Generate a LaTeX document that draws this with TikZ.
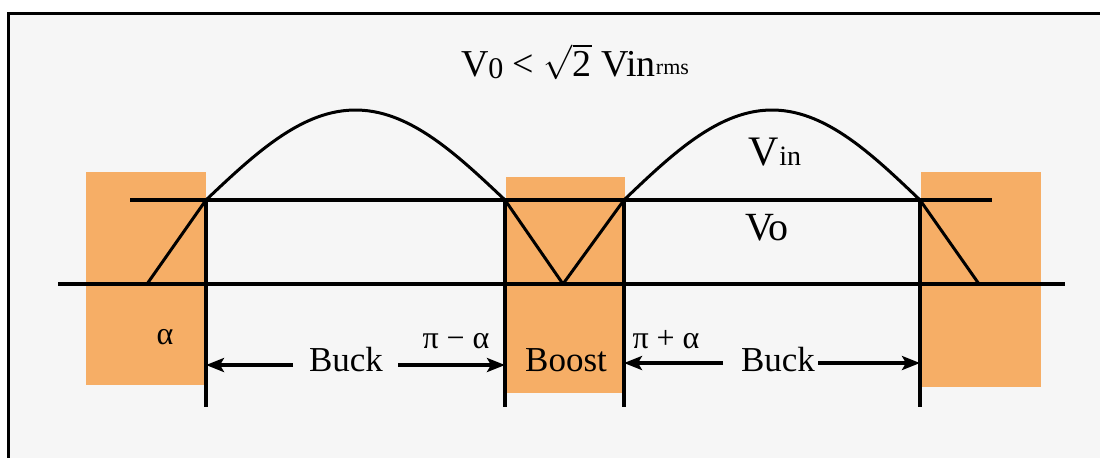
\documentclass[tikz,border=0pt]{standalone}
\usepackage{fontspec}
\setmainfont{Liberation Serif}
\usetikzlibrary{arrows.meta}
\definecolor{boxorange}{HTML}{F6AE66}
\definecolor{panelgrey}{HTML}{F6F6F6}

\begin{document}
\begin{tikzpicture}[x=0.5pt,y=-0.5pt,
    region/.style={fill=boxorange, draw=none},
    level/.style={line width=2pt},
    marker/.style={line width=2pt},
    wave/.style={line width=1.5pt, line join=round},
    span/.style={line width=2pt, -{Stealth[length=9pt,width=7pt,inset=2pt]}},
    lbl/.style={inner sep=0pt, font=\fontsize{17.5}{20}\selectfont},
    angle/.style={inner sep=0pt, font=\fontsize{16}{19}\selectfont}]
    \useasboundingbox (0,0) rectangle (1100,457);
    \clip (0,0) rectangle (1100,457);
    \fill[white] (0,0) rectangle (1100,457);
    \draw[line width=1.5pt, fill=panelgrey] (8,13) rectangle (1110,470);

    % Regions
    \fill[region] (86,172) rectangle (206,385);
    \fill[region] (506,177) rectangle (625,393);
    \fill[region] (921,172) rectangle (1041,387);

    % Points
    \coordinate (vs) at (130,200);
    \coordinate (ve) at (992,200);
    \coordinate (gs) at (58,284);
    \coordinate (ge) at (1065,284);
    \coordinate (z1) at (147,284);
    \coordinate (c1) at (206,200);
    \coordinate (c2) at (505,200);
    \coordinate (z2) at (563,284);
    \coordinate (c3) at (624,200);
    \coordinate (c4) at (920,200);
    \coordinate (z3) at (979,284);
    \coordinate (m1) at (206,407);
    \coordinate (m2) at (505,407);
    \coordinate (m3) at (624,407);
    \coordinate (m4) at (920,407);
    \coordinate (a1) at (206,365);
    \coordinate (a2) at (505,365);
    \coordinate (a3) at (624,363);
    \coordinate (a4) at (920,363);
    \coordinate (t1) at (293,365);
    \coordinate (t2) at (398,365);
    \coordinate (t3) at (723,363);
    \coordinate (t4) at (818,363);

    % Nodes
    \node[inner sep=0pt, font=\fontsize{19}{22}\selectfont] (title) at (575,62)
        {V\raisebox{-1pt}{\fontsize{15}{15}\selectfont 0} < $\sqrt{\mbox{2}}$ Vin\raisebox{1pt}{\fontsize{11}{11}\selectfont rms}};
    \node[inner sep=0pt, font=\fontsize{21}{24}\selectfont] (vin) at (775,152)
        {V{\fontsize{14}{14}\selectfont in}};
    \node[inner sep=0pt, font=\fontsize{20}{24}\selectfont] (vo) at (767,228) {Vo};
    \node[angle] (alpha) at (165,337) {α};
    \node[angle] (pminus) at (456,341) {π − α};
    \node[angle] (pplus) at (666,340) {π + α};
    \node[lbl] (buckL) at (346,360) {Buck};
    \node[lbl] (boost) at (566,360) {Boost};
    \node[lbl] (buckR) at (778,360) {Buck};

    % Lines
    \draw[level] (vs) -- (ve);
    \draw[level] (gs) -- (ge);
    \draw[wave] (z1) -- (c1);
    \draw[wave] (c2) -- (z2) -- (c3);
    \draw[wave] (c4) -- (z3);
    \draw[wave] plot[domain=0:1, samples=60] ({206+299*\x}, {200-90*sin(180*\x)});
    \draw[wave] plot[domain=0:1, samples=60] ({624+296*\x}, {200-90*sin(180*\x)});
    \draw[marker] (c1) -- (m1);
    \draw[marker] (c2) -- (m2);
    \draw[marker] (c3) -- (m3);
    \draw[marker] (c4) -- (m4);

    % Edges
    \draw[span] (t1) -- (a1);
    \draw[span] (t2) -- (a2);
    \draw[span] (t3) -- (a3);
    \draw[span] (t4) -- (a4);
\end{tikzpicture}
\end{document}
